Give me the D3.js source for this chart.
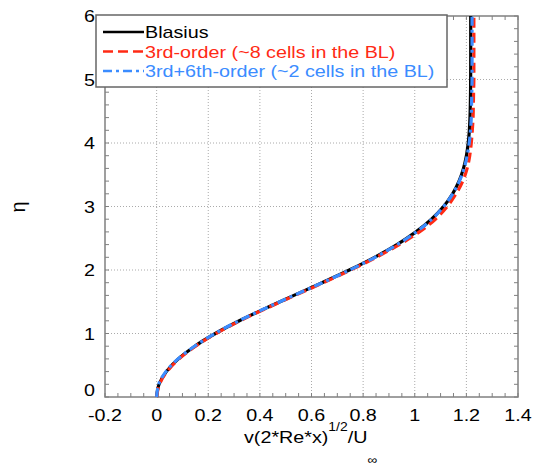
<!DOCTYPE html>
<html lang="en">
  <head>
    <meta charset="utf-8">
    <title>Blasius v profile</title>
    <script src="https://d3js.org/d3.v7.min.js"></script>
    <style>
      body { margin: 0; background: white; }
      text { font-family: "Liberation Sans", Arial, Helvetica, sans-serif; }
    </style>
  </head>
  <body>
    <svg width="539" height="475"></svg>
    <script>
      // eta stations (y axis)
      var eta = [0, 0.2, 0.4, 0.6, 0.8, 1.0, 1.2, 1.4, 1.6, 1.8, 2.0, 2.2, 2.4, 2.6, 2.8, 3.0,
                 3.2, 3.4, 3.6, 3.8, 4.0, 4.2, 4.4, 4.6, 4.8, 5.0, 5.2, 5.4, 5.6, 5.8, 6.0];
      // v(2 Re x)^1/2 / U_inf for each series
      var blasius = [0, 0.0094, 0.0375, 0.084, 0.1479, 0.2276, 0.3206, 0.4234, 0.5318, 0.641,
                     0.7466, 0.8443, 0.931, 1.0047, 1.0648, 1.1116, 1.1466, 1.1716, 1.1888,
                     1.2001, 1.2072, 1.2115, 1.214, 1.2153, 1.2161, 1.2165, 1.2167, 1.2168,
                     1.2168, 1.2168, 1.2168];
      var third = [0, 0.011, 0.04, 0.087, 0.151, 0.23, 0.323, 0.427, 0.536, 0.646, 0.752, 0.851,
                   0.94, 1.018, 1.08, 1.126, 1.16, 1.186, 1.203, 1.213, 1.219, 1.223, 1.226,
                   1.227, 1.228, 1.229, 1.229, 1.229, 1.229, 1.229, 1.229];
      var thirdSixth = [0, 0.008, 0.036, 0.083, 0.147, 0.226, 0.319, 0.423, 0.532, 0.642, 0.748,
                        0.846, 0.932, 1.006, 1.066, 1.112, 1.147, 1.173, 1.191, 1.203, 1.211,
                        1.216, 1.219, 1.22, 1.221, 1.222, 1.222, 1.222, 1.222, 1.222, 1.222];
      var xTicks = [-0.2, 0, 0.2, 0.4, 0.6, 0.8, 1, 1.2, 1.4];
      var yTicks = [0, 1, 2, 3, 4, 5, 6];
      var seriesNames = ["Blasius", "3rd-order (~8 cells in the BL)", "3rd+6th-order (~2 cells in the BL)"];

      var series = [
        {name: seriesNames[0], values: blasius, color: "#000000", dash: null},
        {name: seriesNames[1], values: third, color: "#ff2a14", dash: "10,5"},
        {name: seriesNames[2], values: thirdSixth, color: "#3b8cff", dash: "9,4,3,4"}
      ];

      var svg = d3.select("svg");
      var x = d3.scaleLinear().domain([-0.2, 1.4]).range([105, 518]);
      var y = d3.scaleLinear().domain([0, 6]).range([397, 16]);
      var frameColor = "#808080";
      var wide = 1.16; // reference font is wider than Liberation Sans

      function at(px, py) {
        return "translate(" + px + "," + py + ") scale(" + wide + ",1)";
      }

      // grid
      var grid = svg.append("g").attr("stroke", "#aaaaaa").attr("stroke-width", 1)
        .attr("stroke-dasharray", "1,2");
      grid.selectAll(".gx").data(xTicks.slice(1, -1)).enter().append("line")
        .attr("x1", function(d) { return x(d); }).attr("x2", function(d) { return x(d); })
        .attr("y1", y(0)).attr("y2", y(6));
      grid.selectAll(".gy").data(yTicks.slice(1, -1)).enter().append("line")
        .attr("y1", function(d) { return y(d); }).attr("y2", function(d) { return y(d); })
        .attr("x1", x(-0.2)).attr("x2", x(1.4));

      // inward ticks on all four sides
      var xMinor = d3.range(-0.2, 1.4001, 0.05);
      var yMinor = d3.range(0, 6.0001, 0.2);
      var ticks = svg.append("g").attr("stroke", frameColor).attr("stroke-width", 1);
      ticks.selectAll(".tb").data(xMinor).enter().append("line")
        .attr("x1", function(d) { return x(d); }).attr("x2", function(d) { return x(d); })
        .attr("y1", y(0)).attr("y2", y(0) - 4);
      ticks.selectAll(".tt").data(xMinor).enter().append("line")
        .attr("x1", function(d) { return x(d); }).attr("x2", function(d) { return x(d); })
        .attr("y1", y(6)).attr("y2", y(6) + 4);
      ticks.selectAll(".tl").data(yMinor).enter().append("line")
        .attr("y1", function(d) { return y(d); }).attr("y2", function(d) { return y(d); })
        .attr("x1", x(-0.2)).attr("x2", x(-0.2) + 4);
      ticks.selectAll(".tr").data(yMinor).enter().append("line")
        .attr("y1", function(d) { return y(d); }).attr("y2", function(d) { return y(d); })
        .attr("x1", x(1.4)).attr("x2", x(1.4) - 4);

      // frame
      svg.append("rect").attr("x", x(-0.2)).attr("y", y(6))
        .attr("width", x(1.4) - x(-0.2)).attr("height", y(0) - y(6))
        .attr("fill", "none").attr("stroke", frameColor).attr("stroke-width", 1.5);

      // tick labels
      svg.selectAll(".xl").data(xTicks).enter().append("text")
        .attr("transform", function(d) { return at(x(d), 421); })
        .attr("text-anchor", "middle").attr("font-size", 17)
        .text(function(d) { return d; });
      svg.selectAll(".yl").data(yTicks).enter().append("text")
        .attr("transform", function(d) { return at(95, d === 0 ? y(d) - 1 : y(d) + 6); })
        .attr("text-anchor", "end").attr("font-size", 17)
        .text(function(d) { return d; });

      // curves
      var line = d3.line()
        .x(function(d) { return x(d[0]); })
        .y(function(d) { return y(d[1]); })
        .curve(d3.curveMonotoneY);
      series.forEach(function(s) {
        svg.append("path")
          .datum(s.values.map(function(v, i) { return [v, eta[i]]; }))
          .attr("d", line).attr("fill", "none")
          .attr("stroke", s.color).attr("stroke-width", 3.2)
          .attr("stroke-dasharray", s.dash);
      });

      // axis titles
      var xt = svg.append("text").attr("transform", at(244, 443)).attr("font-size", 17);
      xt.append("tspan").text("v(2*Re*x)");
      xt.append("tspan").attr("dy", -12).attr("font-size", 12).text("1/2");
      xt.append("tspan").attr("dy", 12).text("/U");
      xt.append("tspan").attr("dy", 21).attr("font-size", 12).text("\u221e");
      svg.append("text").attr("transform", "translate(25,207) rotate(-90)")
        .attr("text-anchor", "middle").attr("font-size", 20).text("\u03b7");

      // legend
      var lg = svg.append("g");
      lg.append("rect").attr("x", 96).attr("y", 15).attr("width", 351).attr("height", 72)
        .attr("fill", "white").attr("stroke", "#666666").attr("stroke-width", 1.5);
      series.forEach(function(s, i) {
        var ly = 32 + i * 19.5;
        lg.append("line").attr("x1", 103).attr("x2", 144).attr("y1", ly).attr("y2", ly)
          .attr("stroke", s.color).attr("stroke-width", 2.5).attr("stroke-dasharray", s.dash);
        lg.append("text").attr("transform", at(145, ly + 6)).attr("font-size", 17)
          .attr("fill", s.color).text(s.name);
      });
    </script>
  </body>
</html>
